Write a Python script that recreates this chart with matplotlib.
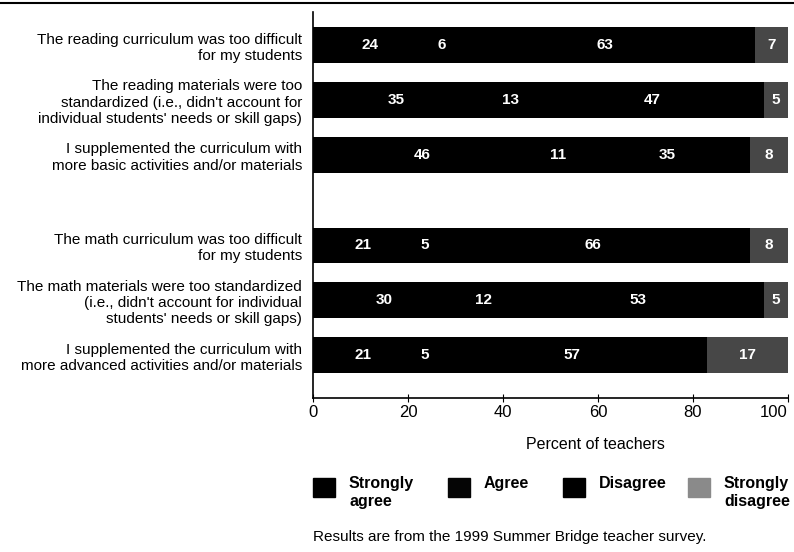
import numpy as np
import matplotlib.pyplot as plt
from matplotlib.patches import Rectangle
from matplotlib.lines import Line2D

plt.rcParams.update({"font.family": ["Liberation Sans", "DejaVu Sans"], "font.size": 11})

statements = [
    "The reading curriculum was too difficult\nfor my students",
    "The reading materials were too\nstandardized (i.e., didn't account for\nindividual students' needs or skill gaps)",
    "I supplemented the curriculum with\nmore basic activities and/or materials",
    "The math curriculum was too difficult\nfor my students",
    "The math materials were too standardized\n(i.e., didn't account for individual\nstudents' needs or skill gaps)",
    "I supplemented the curriculum with\nmore advanced activities and/or materials",
]
categories = ["Strongly\nagree", "Agree", "Disagree", "Strongly\ndisagree"]
strongly_agree = [24, 35, 46, 21, 30, 21]
agree = [6, 13, 11, 5, 12, 5]
disagree = [63, 47, 35, 66, 53, 57]
strongly_disagree = [7, 5, 8, 8, 5, 17]

series = [strongly_agree, agree, disagree, strongly_disagree]
colors = ["#000000", "#000000", "#000000", "#474747"]
legend_colors = ["#000000", "#050505", "#000000", "#8a8a8a"]

ypos = np.array([0, 1, 2, 3.65, 4.65, 5.65])

fig = plt.figure(figsize=(7.94, 5.52), dpi=100)
ax = fig.add_axes([0.3942, 0.279, 0.5982, 0.699])

left = np.zeros(len(ypos))
for vals, c in zip(series, colors):
    vals = np.array(vals)
    ax.barh(ypos, vals, left=left, height=0.65, color=c, edgecolor="none")
    for y, l, v in zip(ypos, left, vals):
        ax.text(l + v / 2, y, str(v), ha="center", va="center", color="white",
                fontsize=11, fontweight="bold")
    left = left + vals

ax.set_yticks(ypos)
ax.set_yticklabels(statements, fontsize=11)
ax.tick_params(axis="y", length=0, pad=8)
ax.set_ylim(6.43, -0.6)
ax.set_xlim(0, 100)
ax.set_xticks(range(0, 101, 20))
ax.tick_params(axis="x", direction="inout", length=6, labelsize=12, pad=2)
ax.get_xticklabels()[-1].set_horizontalalignment("right")
ax.get_xticklabels()[-1].set_x(101)
ax.set_xlabel("Percent of teachers", fontsize=11.5, labelpad=8)
ax.xaxis.set_label_coords(0.594, -0.1)
for s in ["top", "right"]:
    ax.spines[s].set_visible(False)
ax.spines["left"].set_linewidth(1.2)
ax.spines["bottom"].set_linewidth(1.2)

# top rule
fig.add_artist(Line2D([0, 1], [0.994, 0.994], color="black", lw=1.5, transform=fig.transFigure))

# legend
sw_x = [313, 448, 563, 688]
W, H = 794, 552
for x, lab, c in zip(sw_x, categories, legend_colors):
    fig.add_artist(Rectangle((x / W, 1 - 497 / H), 22 / W, 19 / H, color=c, transform=fig.transFigure))
    fig.text((x + 36) / W, 1 - 476 / H, lab, ha="left", va="top", fontsize=11.5,
             fontweight="bold", linespacing=1.25)

fig.text(313 / W, 1 - 537 / H, "Results are from the 1999 Summer Bridge teacher survey.",
         ha="left", va="center", fontsize=11)

fig.savefig("out.png", dpi=100)
